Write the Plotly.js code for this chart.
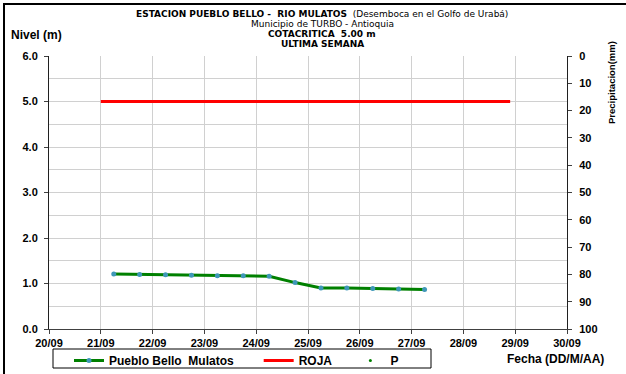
<!DOCTYPE html>
<html>
<head>
<meta charset="utf-8">
<script src="https://cdn.plot.ly/plotly-3.0.1.min.js"></script>
<style>html,body{margin:0;padding:0;background:#fff;}#chart{width:626px;height:374px;}</style>
</head>
<body>
<div id="chart"></div>
<script>
// Data
const nivelDates = [
  '2023-09-21 06:00','2023-09-21 18:00','2023-09-22 06:00','2023-09-22 18:00',
  '2023-09-23 06:00','2023-09-23 18:00','2023-09-24 06:00','2023-09-24 18:00',
  '2023-09-25 06:00','2023-09-25 18:00','2023-09-26 06:00','2023-09-26 18:00',
  '2023-09-27 06:00'
];
const nivelValues = [1.21, 1.20, 1.19, 1.18, 1.17, 1.17, 1.16, 1.02, 0.90, 0.90, 0.89, 0.88, 0.87];
const rojaDates = ['2023-09-21 00:00', '2023-09-28 21:40'];
const rojaValues = [5.0, 5.0];
const pDates = nivelDates;
const pValues = nivelDates.map(() => null);
const xRange = ['2023-09-20', '2023-09-30'];
const seriesNames = ['Pueblo Bello  Mulatos', 'ROJA', 'P'];
const titleLines = [
  '<b>ESTACION PUEBLO BELLO -  RIO MULATOS</b>  (Desemboca en el Golfo de Urabá)',
  'Municipio de TURBO - Antioquia',
  '<b>COTACRITICA  5.00 m</b>',
  '<b>ULTIMA SEMANA</b>'
];

const W = 626, H = 374, L = 49, R = 59, T = 56, B = 45;
const pw = W - L - R, ph = H - T - B;
const px = x => (x - L) / pw;
const py = y => (H - B - y) / ph;
const nb = n => '\u00A0'.repeat(n);

const font = 'Liberation Sans, Arial, sans-serif';
const titleFont = 'DejaVu Sans, Liberation Sans, sans-serif';

const traces = [
  {
    x: nivelDates, y: nivelValues, name: seriesNames[0].replace(/ /g, '\u00A0') + nb(6),
    type: 'scatter', mode: 'lines+markers',
    line: {color: '#008000', width: 3},
    marker: {color: '#3f97b8', size: 5, line: {width: 0}}
  },
  {
    x: rojaDates, y: rojaValues, name: seriesNames[1] + nb(4), type: 'scatter', mode: 'lines',
    line: {color: '#ff0000', width: 3}
  },
  {
    x: pDates, y: pValues, name: seriesNames[2], type: 'scatter', mode: 'markers', yaxis: 'y2',
    marker: {color: '#008000', size: 3}
  }
];

const titleY = [14, 24, 34, 44.5];
const annotations = titleLines.map((t, i) => ({
  text: t, xref: 'paper', yref: 'paper', x: px(322), y: py(titleY[i]),
  xanchor: 'center', yanchor: 'middle', showarrow: false,
  font: {family: titleFont, size: 9, color: '#000'}
}));
annotations.push({
  text: '<b>Nivel (m)</b>', xref: 'paper', yref: 'paper', x: px(9), y: py(35),
  xanchor: 'left', yanchor: 'middle', showarrow: false, font: {family: font, size: 12, color: '#000'}
});
annotations.push({
  text: '<b>Fecha (DD/M/AA)</b>', xref: 'paper', yref: 'paper', x: px(606), y: py(359),
  xanchor: 'right', yanchor: 'middle', showarrow: false, font: {family: font, size: 12, color: '#000'}
});
annotations.push({
  text: '<b>Precipitacion(mm)</b>', xref: 'paper', yref: 'paper', x: px(611), y: py(83),
  xanchor: 'center', yanchor: 'middle', textangle: -90, showarrow: false,
  font: {family: font, size: 9.5, color: '#000'}
});

const tickFont = {family: font, size: 11, color: '#000', weight: 'bold'};

const layout = {
  width: W, height: H,
  margin: {l: L, r: R, t: T, b: B, pad: 0, autoexpand: false},
  paper_bgcolor: '#fff', plot_bgcolor: '#fff',
  font: {family: font, size: 11, color: '#000'},
  showlegend: true,
  legend: {
    orientation: 'h', x: px(69), y: py(346), xanchor: 'left', yanchor: 'top',
    borderwidth: 0, bgcolor: 'rgba(0,0,0,0)',
    font: {family: font, size: 12, color: '#000', weight: 'bold'},
    itemwidth: 30, tracegroupgap: 0
  },
  xaxis: {
    type: 'date', range: xRange, dtick: 86400000, tick0: '2023-09-20',
    tickformat: '%d/%m', showgrid: true, gridcolor: '#d0d0d0', gridwidth: 1,
    showline: true, linecolor: '#404040', linewidth: 1,
    ticks: 'outside', ticklen: 4, tickcolor: '#404040',
    tickfont: tickFont, zeroline: false, fixedrange: true, automargin: false
  },
  yaxis: {
    range: [0, 6], dtick: 1, tickformat: '.1f',
    showgrid: true, gridcolor: '#d0d0d0', gridwidth: 1,
    minor: {dtick: 0.5, showgrid: true, gridcolor: '#d0d0d0', gridwidth: 1},
    showline: true, linecolor: '#202020', linewidth: 1,
    ticks: 'outside', ticklen: 4, tickcolor: '#404040', ticklabelstandoff: 4,
    tickfont: tickFont, zeroline: false, fixedrange: true, automargin: false
  },
  yaxis2: {
    overlaying: 'y', side: 'right', range: [100, 0], dtick: 10,
    showgrid: false, showline: true, linecolor: '#202020', linewidth: 1,
    ticks: 'outside', ticklen: 4, tickcolor: '#404040', ticklabelstandoff: 5,
    tickfont: tickFont, zeroline: false, fixedrange: true, automargin: false
  },
  yaxis3: {
    overlaying: 'y', side: 'right', range: [100, 0], dtick: 10,
    showgrid: false, showline: false, showticklabels: false,
    ticks: 'inside', ticklen: 4, tickcolor: '#404040',
    zeroline: false, fixedrange: true, automargin: false
  },
  annotations: annotations,
  shapes: [
    {
      type: 'rect', xref: 'paper', yref: 'paper',
      x0: px(4), x1: px(700), y0: py(420), y1: py(4),
      line: {color: '#000', width: 2}, fillcolor: 'rgba(0,0,0,0)', layer: 'above'
    },
    {
      type: 'rect', xref: 'paper', yref: 'paper',
      x0: px(53), x1: px(431), y0: py(368), y1: py(349),
      line: {color: '#000', width: 1}, fillcolor: 'rgba(0,0,0,0)', layer: 'above'
    }
  ]
};

Plotly.newPlot('chart', traces, layout, {staticPlot: true, displayModeBar: false});
</script>
</body>
</html>
